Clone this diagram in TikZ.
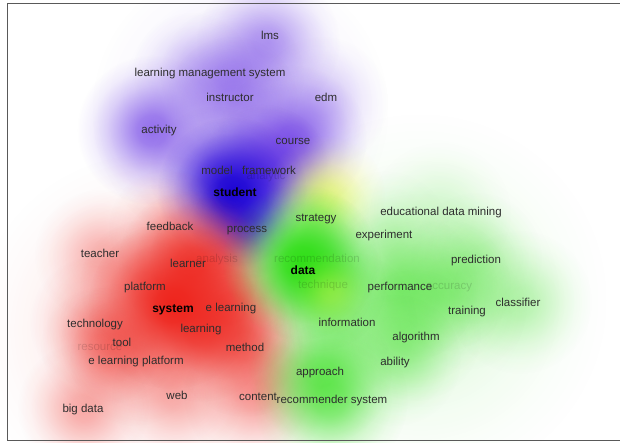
\documentclass[tikz,border=0pt]{standalone}
\usepackage{fontspec}
\setmainfont{Liberation Sans}
\usetikzlibrary{fadings}

\definecolor{purp}{RGB}{105,55,228}
\definecolor{deepblue}{RGB}{22,0,215}
\definecolor{hotred}{RGB}{238,32,24}
\definecolor{leaf}{RGB}{45,222,20}
\definecolor{lemon}{RGB}{250,250,90}
\definecolor{inkgray}{RGB}{45,45,45}

\pgfdeclareradialshading{blobshade}{\pgfpointorigin}{color(0bp)=(white); color(5bp)=(white!88!black); color(10bp)=(white!60!black); color(15bp)=(white!32!black); color(20bp)=(white!11!black); color(25bp)=(black); color(50bp)=(black)}
\pgfdeclarefading{blobfade}{\pgfuseshading{blobshade}}

\newcommand{\blob}[5]{\fill[#1, opacity=#5, path fading=blobfade] (#2,#3) circle (#4);}

\tikzset{
  term/.style={font=\fontsize{11.5}{13}\selectfont, text=inkgray, inner sep=0pt, text height=8pt, text depth=2pt},
  hub/.style={term, font=\fontsize{12}{14}\selectfont\bfseries, text=black},
  faint/.style={term, text=black, text opacity=0.14}
}

\begin{document}
\begin{tikzpicture}[x=1pt, y=-1pt]
  \useasboundingbox (0,0) rectangle (620,443);
  \fill[white] (0,0) rectangle (620,443);

  % purple / blue cluster
  \blob{purp}{240}{110}{150}{0.2}
  \blob{purp}{268}{42}{72}{0.45}
  \blob{purp}{232}{76}{72}{0.35}
  \blob{purp}{192}{72}{60}{0.25}
  \blob{purp}{232}{102}{66}{0.35}
  \blob{purp}{322}{102}{66}{0.25}
  \blob{purp}{152}{130}{75}{0.7}
  \blob{purp}{292}{140}{75}{0.75}
  \blob{purp}{262}{170}{66}{0.55}
  \blob{purp}{215}{172}{66}{0.65}
  \blob{purp}{266}{172}{66}{0.65}
  \blob{deepblue}{232}{192}{75}{0.95}
  \blob{deepblue}{245}{226}{54}{0.65}

  % red cluster
  \blob{hotred}{150}{330}{180}{0.16}
  \blob{hotred}{100}{255}{66}{0.3}
  \blob{hotred}{168}{228}{60}{0.3}
  \blob{hotred}{95}{322}{66}{0.32}
  \blob{hotred}{120}{343}{60}{0.3}
  \blob{hotred}{100}{347}{60}{0.25}
  \blob{hotred}{135}{360}{66}{0.3}
  \blob{hotred}{177}{395}{66}{0.3}
  \blob{hotred}{255}{395}{72}{0.4}
  \blob{hotred}{83}{408}{66}{0.35}
  \blob{hotred}{145}{285}{66}{0.45}
  \blob{hotred}{190}{262}{72}{0.7}
  \blob{hotred}{215}{262}{66}{0.5}
  \blob{hotred}{230}{308}{72}{0.6}
  \blob{hotred}{200}{330}{72}{0.65}
  \blob{hotred}{245}{345}{72}{0.55}
  \blob{hotred}{172}{305}{84}{0.95}

  % green cluster
  \blob{leaf}{420}{300}{190}{0.16}
  \blob{lemon}{325}{195}{60}{0.65}
  \blob{leaf}{315}{215}{54}{0.25}
  \blob{leaf}{440}{213}{72}{0.15}
  \blob{leaf}{385}{236}{66}{0.2}
  \blob{leaf}{476}{258}{66}{0.3}
  \blob{leaf}{467}{310}{60}{0.2}
  \blob{leaf}{520}{302}{72}{0.3}
  \blob{leaf}{445}{285}{66}{0.3}
  \blob{leaf}{400}{287}{78}{0.5}
  \blob{leaf}{345}{322}{72}{0.35}
  \blob{leaf}{415}{335}{66}{0.3}
  \blob{leaf}{395}{360}{66}{0.3}
  \blob{leaf}{320}{372}{72}{0.55}
  \blob{leaf}{330}{400}{78}{0.55}
  \blob{leaf}{315}{258}{66}{0.55}
  \blob{leaf}{320}{285}{66}{0.65}
  \blob{leaf}{300}{262}{78}{0.95}
  \blob{lemon}{330}{292}{42}{0.35}

  % frame
  \draw[gray!70!black, line width=1pt] (620,3.5) -- (7.5,3.5) -- (7.5,440) -- (620,440);

  % labels
  \path
    (270,37) node[term] (lms) {lms}
    (210,74) node[term] (lmsys) {learning management system}
    (230,99) node[term] (instructor) {instructor}
    (326,99) node[term] (edm) {edm}
    (159,131) node[term] (activity) {activity}
    (266,177) node[faint] (analytic) {analytic}
    (293,142) node[term] (course) {course}
    (217,172) node[term] (model) {model}
    (269,172) node[term] (framework) {framework}
    (235,194) node[hub] (student) {student}
    (170,228) node[term] (feedback) {feedback}
    (247,230) node[term] (process) {process}
    (316,219) node[term] (strategy) {strategy}
    (441,213) node[term] (edmining) {educational data mining}
    (384,236) node[term] (experiment) {experiment}
    (100,255) node[term] (teacher) {teacher}
    (217,259) node[faint] (analysis) {analysis}
    (188,265) node[term] (learner) {learner}
    (317,259) node[faint] (recommendation) {recommendation}
    (476,261) node[term] (prediction) {prediction}
    (303,271) node[hub] (data) {data}
    (145,287) node[term] (platform) {platform}
    (323,285) node[faint] (technique) {technique}
    (449,286) node[faint] (accuracy) {accuracy}
    (400,287) node[term] (performance) {performance}
    (173,309) node[hub] (system) {system}
    (231,308) node[term] (elearning) {e learning}
    (518,303) node[term] (classifier) {classifier}
    (467,311) node[term] (training) {training}
    (95,324) node[term] (technology) {technology}
    (347,323) node[term] (information) {information}
    (201,329) node[term] (learning) {learning}
    (100,347) node[faint] (resource) {resource}
    (122,343) node[term] (tool) {tool}
    (245,348) node[term] (method) {method}
    (416,337) node[term] (algorithm) {algorithm}
    (136,361) node[term] (elplatform) {e learning platform}
    (395,362) node[term] (ability) {ability}
    (320,372) node[term] (approach) {approach}
    (177,396) node[term] (web) {web}
    (258,397) node[term] (content) {content}
    (332,400) node[term] (recsystem) {recommender system}
    (83,409) node[term] (bigdata) {big data};
\end{tikzpicture}
\end{document}
